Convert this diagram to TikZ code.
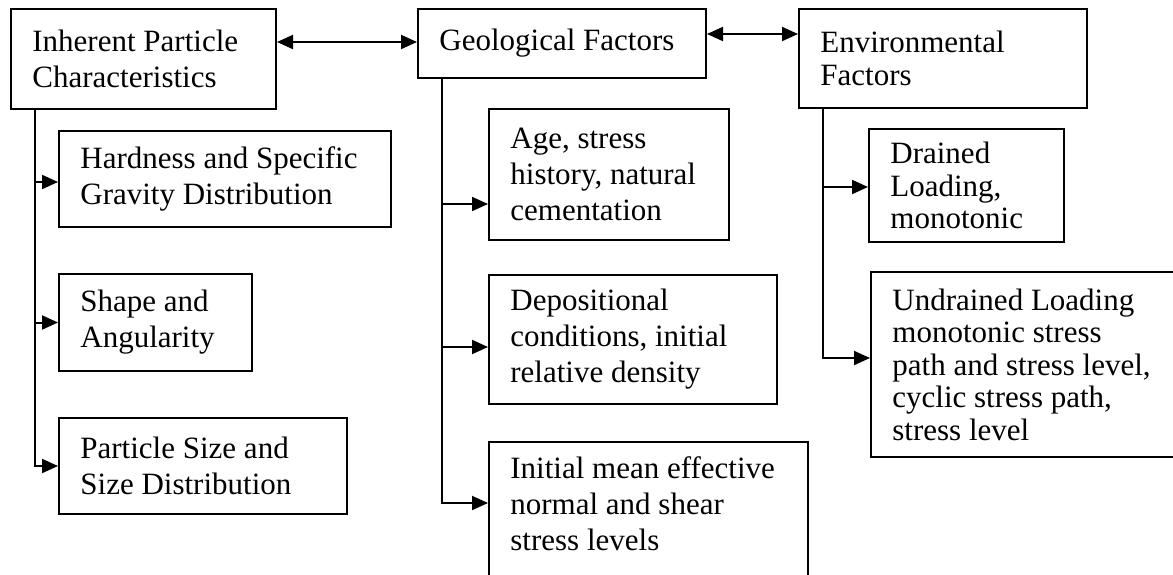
\documentclass[tikz,border=0pt]{standalone}
\usepackage{fontspec}
\setmainfont{Liberation Serif}
\usetikzlibrary{arrows.meta}
\tikzset{
  box/.style={draw, line width=1pt, rectangle, inner sep=0pt, anchor=north west},
  txt/.style={align=left, inner sep=0pt, anchor=west, font=\fontsize{15.5pt}{18pt}\selectfont},
  txtc/.style={align=left, inner sep=0pt, anchor=west, font=\fontsize{15.5pt}{16.25pt}\selectfont},
  line/.style={line width=1pt},
  conn/.style={line width=1pt, -{Triangle[length=8pt,width=7pt]}},
  dbl/.style={line width=1pt, {Triangle[length=8pt,width=7pt]}-{Triangle[length=8pt,width=7pt]}},
}
\begin{document}
\begin{tikzpicture}[x=0.5pt,y=-0.5pt]
\useasboundingbox (0,0) rectangle (1173,574);
\clip (0,0) rectangle (1173,574);
% top boxes
\node[box, minimum width=132.5pt, minimum height=50pt] (A) at (10,8) {};
\node[txt] (At) at ([xshift=11pt]A.west) {Inherent Particle\\Characteristics};
\node[box, minimum width=144pt, minimum height=34.5pt] (B) at (417,8) {};
\node[txt] (Bt) at ([xshift=11pt]B.west) {Geological Factors};
\node[box, minimum width=144pt, minimum height=49.5pt] (C) at (798,8) {};
\node[txtc] (Ct) at ([xshift=11pt]C.west) {Environmental\\Factors};
% left column
\node[box, minimum width=166pt, minimum height=48pt] (A1) at (58,130) {};
\node[txt] (A1t) at ([xshift=11pt]A1.west) {Hardness and Specific\\Gravity Distribution};
\node[box, minimum width=96.5pt, minimum height=48.5pt] (A2) at (58,273) {};
\node[txt] (A2t) at ([xshift=11pt]A2.west) {Shape and\\Angularity};
\node[box, minimum width=144pt, minimum height=48pt] (A3) at (58,417) {};
\node[txt] (A3t) at ([xshift=11pt]A3.west) {Particle Size and\\Size Distribution};
% middle column
\node[box, minimum width=120pt, minimum height=65.5pt] (B1) at (488,108) {};
\node[txt] (B1t) at ([xshift=11pt]B1.west) {Age, stress\\history, natural\\cementation};
\node[box, minimum width=144pt, minimum height=64.5pt] (B2) at (488,274) {};
\node[txt] (B2t) at ([xshift=11pt]B2.west) {Depositional\\conditions, initial\\relative density};
\node[box, minimum width=159.5pt, minimum height=100pt] (B3) at (488,441) {};
\node[txt, anchor=north west] (B3t) at ([xshift=11pt,yshift=-7.5pt]B3.north west) {Initial mean effective\\normal and shear\\stress levels};
% right column
\node[box, minimum width=97.5pt, minimum height=56.5pt] (C1) at (868,128) {};
\node[txtc] (C1t) at ([xshift=11pt]C1.west) {Drained\\Loading,\\monotonic};
\node[box, minimum width=160pt, minimum height=92.5pt] (C2) at (870,271) {};
\node[txtc] (C2t) at ([xshift=11pt]C2.west) {Undrained Loading\\monotonic stress\\path and stress level,\\cyclic stress path,\\stress level};
% connectors between top boxes
\draw[dbl] (A.east |- 0,42) -- (B.west |- 0,42);
\draw[dbl] (B.east |- 0,34) -- (C.west |- 0,34);
% trunks
\coordinate (ta) at ([xshift=12.5pt]A.south west);
\coordinate (tb) at ([xshift=12.5pt]B.south west);
\coordinate (tc) at ([xshift=12.5pt]C.south west);
\draw[conn] (ta) |- (A3.west);
\draw[conn] (ta |- 0,182) -- (A1.west |- 0,182);
\draw[conn] (ta |- A2.west) -- (A2.west);
\draw[conn] (tb) |- (B3.west |- 0,503);
\draw[conn] (tb |- 0,204) -- (B1.west |- 0,204);
\draw[conn] (tb |- 0,347) -- (B2.west |- 0,347);
\draw[conn] (tc) |- (C2.west |- 0,358);
\draw[conn] (tc |- 0,187) -- (C1.west |- 0,187);
\end{tikzpicture}
\end{document}
